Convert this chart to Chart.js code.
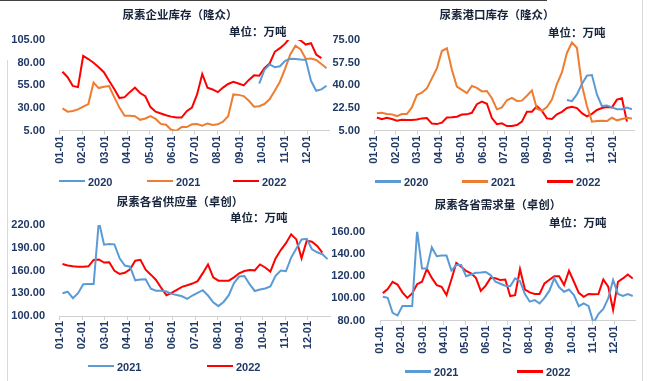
<!DOCTYPE html>
<html><head><meta charset="utf-8">
<script src="https://cdn.jsdelivr.net/npm/chart.js@4.4.0/dist/chart.umd.min.js"></script>
<style>
html,body{margin:0;padding:0;background:#fff;width:649px;height:381px;overflow:hidden;position:relative;}
canvas{position:absolute;}
.t{position:absolute;font-family:"Noto Sans CJK SC";font-weight:bold;font-size:11.5px;color:#17243a;white-space:nowrap;line-height:1;transform:translate(-50%,-50%);}
.u{position:absolute;font-family:"Noto Sans CJK SC";font-weight:bold;font-size:11.5px;color:#17243a;white-space:nowrap;line-height:1;transform:translateY(-50%);}
.lg{position:absolute;height:2.5px;}
.lt{position:absolute;font:bold 11px "Liberation Sans",Arial,sans-serif;color:#1f3864;line-height:1;transform:translateY(-50%);}
.art{position:absolute;background:#d9d9d9;}
</style></head><body>
<div class="art" style="left:0;top:0;width:547px;height:1px;background:#444"></div>
<div class="art" style="left:7px;top:60px;width:1px;height:321px"></div>
<div class="art" style="left:642px;top:0;width:1px;height:381px"></div>

<canvas id="c1" width="340" height="190" style="left:0;top:0"></canvas>
<canvas id="c2" width="324" height="190" style="left:325px;top:0"></canvas>
<canvas id="c3" width="340" height="191" style="left:0;top:190px"></canvas>
<canvas id="c4" width="324" height="191" style="left:325px;top:190px"></canvas>

<div class="t" style="left:180px;top:15px">尿素企业库存（隆众）</div>
<div class="u" style="left:229px;top:32px">单位：万吨</div>
<div class="t" style="left:497px;top:15px">尿素港口库存（隆众）</div>
<div class="u" style="left:548px;top:33px">单位：万吨</div>
<div class="t" style="left:180px;top:202px">尿素各省供应量（卓创）</div>
<div class="u" style="left:230px;top:218px">单位：万吨</div>
<div class="t" style="left:498px;top:205px">尿素各省需求量（卓创）</div>
<div class="u" style="left:549px;top:223px">单位：万吨</div>

<div id="legends"></div>

<script>
// ---- data ----
const monthLabels = ["01-01","02-01","03-01","04-01","05-01","06-01","07-01","08-01","09-01","10-01","11-01","12-01"];
const FIRST_DAY = 4;          // day of year of the first weekly reading
const MONTH_DAYS = 365 / 12;

// 尿素企业库存（隆众）
const invTicks = [5, 30, 55, 80, 105];
const inv2020 = [null,null,null,null,null,null,null,null,null,null,null,null,null,null,null,null,null,null,null,null,
  null,null,null,null,null,null,null,null,null,null,null,null,null,null,null,null,null,null,
  57,72,78,75,76,82,84.3,84,83.4,83,60,49,50.5,54.5];
const inv2021 = [29.6,26,26.7,28.5,31.5,34.4,58,52,53.5,54.3,42,30.5,21.5,21.5,21,17,18.5,21.2,18,12.5,
  11.5,6,5,9,9,12,12.4,10.5,13,11.3,12,15,21,45,44.5,43.2,38,31.5,32,34.4,
  39.6,49,59,73.5,89,98.7,94.5,84,84.5,83,78.5,73.8];
const inv2022 = [70,64,54.3,53,87.4,84,80,75,69.5,60,51,41,42,47.5,52.5,46.5,43,31,26,24,
  22,20.5,19.5,19.5,26.5,30.5,45,67.5,52.5,50.5,47.5,52.5,56.5,59,57,55,61,66,65.5,74,
  79,92,96,101,108,107,104.5,100,101.5,89,85];

// 尿素港口库存（隆众）
const portTicks = [5, 22.5, 40, 57.5, 75];
const port2020 = [null,null,null,null,null,null,null,null,null,null,null,null,null,null,null,null,null,null,null,null,
  null,null,null,null,null,null,null,null,null,null,null,null,null,null,null,null,null,null,
  28.7,27.8,33,41,47.5,48,33,24,24.5,23,21.6,21.5,22.8,21.5];
const port2021 = [18.4,18.9,17.9,17.6,16.3,17.9,17.9,23,32.5,34.3,37.7,45.4,53,66.5,68.6,52,39,36.5,34,39.5,
  38,35.3,35.6,30,21.5,23,28.5,30.3,28,28.2,32,36,22,20.3,23.3,29,41,50,65,73,
  69,40,24,12,12.5,12.7,12.5,15,13,14,15,14.5];
const port2022 = [15.2,13.8,15,14,12.7,13.5,13.2,13.2,13.7,14.5,14.8,10.5,10.1,11.2,15.2,15.3,15.8,17.5,17.6,18.8,
  25.5,27.4,25.8,14.8,10,10.7,8.6,8.6,9.4,12,19.6,19.7,24,20.3,14.5,14,17.7,19.5,22.5,23.5,
  22.5,18.5,16,18,21,22.5,23.3,23,29,30,12];

// 尿素各省供应量（卓创）
const supplyTicks = [100, 130, 160, 190, 220];
const supply2021 = [130,132,123.5,130,142,142.2,142.2,225,194,195,194.5,176,166.5,165,147,148,148.4,136,133.4,133.4,
  132.3,129.2,127.8,126,122.5,127,130.5,134,127,118,113,118.5,127.5,143.5,152,152.7,142,133,135,136.2,
  139,153,160,159,177,189,201,201.8,188,184,181.5,175];
const supply2022 = [168.6,166.5,165.5,164.8,164.8,165.5,174,174.5,170.5,170.8,159.5,155.5,157,161.5,173,174,161,154.5,147.5,137,
  127.5,130.5,134.5,138.5,140.5,142.8,146,156.5,168,151,146.6,146.6,146.6,151,156.3,159.3,160.7,160.2,
  168,164,158.5,176,187,196,207.7,201,176,199.3,198,192.3,183.5];

// 尿素各省需求量（卓创）
const demandTicks = [80, 100, 120, 140, 160];
const demand2021 = [101.6,100.6,87,84.8,93.2,93.2,93.2,161,127,127,146,138,138.5,138.5,125,130,130,120,121.5,123,
  123.3,123.8,121,115,113.2,111.5,111,118,115.5,104,97.1,98.5,95.5,100.5,107,118,110,106,108,103,
  93,95.5,93,78,86,90.5,100,116.6,104,102.2,104,102.2];
const demand2022 = [104.8,108.5,115,112.5,105.5,100.5,104.5,112.8,115,126.5,118.5,112,110.5,103.1,117,132,128.5,124.7,122.6,118.5,
  106.8,111.5,118.5,118.2,116.5,117,102.2,103,126.5,108,105.4,104.1,104,113.5,116.8,120,
  120,112,125,115,105,101.5,104,103.8,104,117,110.6,89.6,115,118,121.6,118];

// ---- styles ----
const C2020 = '#5B9BD5', C2021 = '#ED7D31', C2022 = '#FF0000';
const TICK = '#1f3864';
const FONT = {family:'"Liberation Sans", Arial, sans-serif', size:11, weight:'bold'};

function pts(arr){ return arr.map((v,i)=>({x:(FIRST_DAY + 7*i)/MONTH_DAYS, y:v})); }

function build(id, area, yTicks, series){
  const c = document.getElementById(id);
  const W = c.width, H = c.height;
  new Chart(c, {
    type:'line',
    data:{datasets: series.map(s=>({label:s.label, data:pts(s.data), borderColor:s.color, backgroundColor:s.color,
      borderWidth:2, pointRadius:0, tension:0, fill:false, spanGaps:false}))},
    options:{
      responsive:false, animation:false, devicePixelRatio:1, events:[],
      layout:{padding:{left:0, top:area.t, right:W-area.r, bottom:0}, autoPadding:false},
      plugins:{legend:{display:false}, tooltip:{enabled:false}, title:{display:false}},
      scales:{
        x:{type:'linear', min:0, max:12,
          afterBuildTicks:s=>{ s.ticks = monthLabels.map((_,i)=>({value:i})); },
          ticks:{autoSkip:false, minRotation:90, maxRotation:90, padding:1, color:TICK, font:FONT,
            callback:(v)=>monthLabels[Math.round(v)]},
          grid:{drawOnChartArea:false, drawTicks:true, tickLength:4, color:'#d0d0d0'},
          border:{display:true, color:'#d0d0d0', width:1},
          afterFit:s=>{ s.height = H - area.b; s.paddingLeft=0; s.paddingRight=0; s.paddingTop=0; s.paddingBottom=0; }
        },
        y:{type:'linear', min:yTicks[0], max:yTicks[yTicks.length-1],
          afterBuildTicks:s=>{ s.ticks = yTicks.map(v=>({value:v})); },
          ticks:{padding:area.pad, color:TICK, font:FONT, callback:v=>Number(v).toFixed(2)},
          grid:{display:false, drawTicks:false},
          border:{display:false},
          afterFit:s=>{ s.width = area.l; s.paddingLeft=0; s.paddingRight=0; s.paddingTop=0; s.paddingBottom=0; }
        }
      }
    }
  });
}

build('c1', {l:59.5, r:329.5, t:40, b:130.7, pad:14.5}, invTicks, [
  {label:'2020', data:inv2020, color:C2020},
  {label:'2021', data:inv2021, color:C2021},
  {label:'2022', data:inv2022, color:C2022}]);
build('c2', {l:49, r:309.8, t:40, b:130.7, pad:14}, portTicks, [
  {label:'2020', data:port2020, color:C2020},
  {label:'2021', data:port2021, color:C2021},
  {label:'2022', data:port2022, color:C2022}]);
build('c3', {l:59.5, r:330.5, t:35, b:126, pad:14.5}, supplyTicks, [
  {label:'2021', data:supply2021, color:C2020},
  {label:'2022', data:supply2022, color:C2022}]);
build('c4', {l:55, r:310.5, t:41.7, b:130.7, pad:15}, demandTicks, [
  {label:'2021', data:demand2021, color:C2020},
  {label:'2022', data:demand2022, color:C2022}]);

// ---- legends (HTML) ----
const legendItems = [
  {x:59, y:181, text:'2020', color:C2020},
  {x:147, y:181, text:'2021', color:C2021},
  {x:233, y:181, text:'2022', color:C2022},
  {x:375, y:181.5, text:'2020', color:C2020},
  {x:462, y:181.5, text:'2021', color:C2021},
  {x:547, y:181.5, text:'2022', color:C2022},
  {x:88, y:366, text:'2021', color:C2020},
  {x:207, y:366, text:'2022', color:C2022},
  {x:405, y:371.5, text:'2021', color:C2020},
  {x:517, y:371.5, text:'2022', color:C2022}
];
const lg = document.getElementById('legends');
legendItems.forEach(it=>{
  const l = document.createElement('div');
  l.className='lg'; l.style.left=it.x+'px'; l.style.top=(it.y-1.25)+'px'; l.style.width='26px'; l.style.background=it.color;
  lg.appendChild(l);
  const t = document.createElement('div');
  t.className='lt'; t.style.left=(it.x+29)+'px'; t.style.top=(it.y+0.5)+'px'; t.textContent=it.text;
  lg.appendChild(t);
});
</script>
</body></html>
